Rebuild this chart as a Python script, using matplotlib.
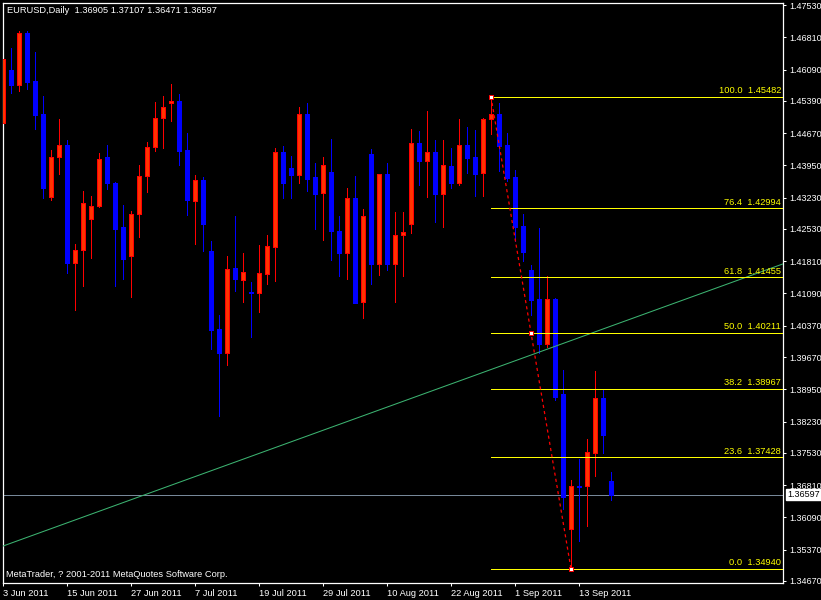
import matplotlib
matplotlib.use("Agg")
import matplotlib.pyplot as plt
import numpy as np

# ---------------- data ----------------
symbol = "EURUSD,Daily"
tick_dates = ["3 Jun 2011", "15 Jun 2011", "27 Jun 2011", "7 Jul 2011", "19 Jul 2011",
              "29 Jul 2011", "10 Aug 2011", "22 Aug 2011", "1 Sep 2011", "13 Sep 2011"]
bars_per_tick = 8

open_ = [1.4489, 1.4608, 1.4574, 1.4690, 1.4583, 1.4509, 1.4324, 1.4413, 1.4440, 1.4178,
         1.4205, 1.4275, 1.4304, 1.4413, 1.4355, 1.4257, 1.4192, 1.4286, 1.4371, 1.4435,
         1.4500, 1.4535, 1.4539, 1.4429, 1.4316, 1.4362, 1.4204, 1.4030, 1.3975, 1.4166,
         1.4140, 1.4113, 1.4111, 1.4153, 1.4213, 1.4425, 1.4389, 1.4374, 1.4510, 1.4369,
         1.4333, 1.4380, 1.4248, 1.4200, 1.4321, 1.4089, 1.4420, 1.4175, 1.4375, 1.4175,
         1.4239, 1.4263, 1.4444, 1.4405, 1.4424, 1.4332, 1.4394, 1.4356, 1.4440, 1.4414,
         1.4377, 1.4498, 1.4510, 1.4440, 1.4368, 1.4260, 1.4161, 1.4096, 1.3997, 1.4096,
         1.3885, 1.3584, 1.3679, 1.3678, 1.3752, 1.3876, 1.36905]
high = [1.4641, 1.4657, 1.4695, 1.4695, 1.4648, 1.4550, 1.4429, 1.4499, 1.4452, 1.4219,
        1.4338, 1.4327, 1.4422, 1.4440, 1.4357, 1.4306, 1.4292, 1.4396, 1.4447, 1.4536,
        1.4550, 1.4577, 1.4554, 1.4467, 1.4373, 1.4368, 1.4225, 1.4060, 1.4193, 1.4282,
        1.4199, 1.4135, 1.4217, 1.4240, 1.4433, 1.4438, 1.4416, 1.4525, 1.4534, 1.4400,
        1.4413, 1.4454, 1.4282, 1.4344, 1.4371, 1.4298, 1.4431, 1.4375, 1.4400, 1.4291,
        1.4291, 1.4476, 1.4472, 1.4516, 1.4452, 1.4452, 1.4434, 1.4499, 1.4481, 1.4474,
        1.4500, 1.45482, 1.4534, 1.4467, 1.4385, 1.4286, 1.4172, 1.4256, 1.4148, 1.4099,
        1.3937, 1.3693, 1.3739, 1.3784, 1.3936, 1.3893, 1.37107]
low = [1.4450, 1.4556, 1.4562, 1.4565, 1.4477, 1.4321, 1.4318, 1.4376, 1.4155, 1.4073,
       1.4126, 1.4189, 1.4303, 1.4342, 1.4126, 1.4141, 1.4102, 1.4236, 1.4336, 1.4426,
       1.4434, 1.4495, 1.4396, 1.4284, 1.4220, 1.4204, 1.3985, 1.3836, 1.3950, 1.4114,
       1.4091, 1.4012, 1.4068, 1.4131, 1.4137, 1.4323, 1.4323, 1.4356, 1.4338, 1.4254,
       1.4228, 1.4184, 1.4149, 1.4142, 1.4087, 1.4055, 1.4129, 1.4151, 1.4162, 1.4091,
       1.4149, 1.4245, 1.4352, 1.4325, 1.4269, 1.4258, 1.4345, 1.4352, 1.4378, 1.4327,
       1.4327, 1.4466, 1.4383, 1.4359, 1.4225, 1.4181, 1.4060, 1.3975, 1.3989, 1.3872,
       1.3627, 1.34940, 1.3557, 1.3590, 1.3702, 1.3753, 1.36471]
close = [1.4632, 1.4574, 1.4690, 1.4582, 1.4508, 1.4345, 1.4413, 1.4440, 1.4178, 1.4205,
         1.4310, 1.4304, 1.4409, 1.4355, 1.4254, 1.4185, 1.4286, 1.4371, 1.4435, 1.4500,
         1.4525, 1.4539, 1.4427, 1.4318, 1.4362, 1.4263, 1.4028, 1.3975, 1.4163, 1.4141,
         1.4157, 1.4111, 1.4154, 1.4214, 1.4425, 1.4356, 1.4373, 1.4509, 1.4365, 1.4332,
         1.4395, 1.4248, 1.4199, 1.4321, 1.4088, 1.4281, 1.4175, 1.4375, 1.4175, 1.4239,
         1.4246, 1.4444, 1.4405, 1.4424, 1.4332, 1.4395, 1.4356, 1.4440, 1.4412, 1.4376,
         1.4498, 1.4509, 1.4439, 1.4367, 1.4258, 1.4202, 1.4095, 1.3997, 1.4096, 1.3878,
         1.3654, 1.3678, 1.3677, 1.3754, 1.3876, 1.3794, 1.36597]

price_ticks = [1.47530, 1.46810, 1.46090, 1.45390, 1.44670, 1.43950, 1.43230, 1.42530,
               1.41810, 1.41090, 1.40370, 1.39670, 1.38950, 1.38230, 1.37530, 1.36810,
               1.36090, 1.35370, 1.34670]

fib_ratios = [100.0, 76.4, 61.8, 50.0, 38.2, 23.6, 0.0]
fib_prices = [1.45482, 1.42994, 1.41455, 1.40211, 1.38967, 1.37428, 1.34940]
fib_bar_high, fib_bar_low = 61, 71

trend_bars = [0, 97.5]
trend_prices = [1.3545, 1.4175]

y_range = (1.34625, 1.47586)
x_range = (0, 97.5)

# ---------------- style ----------------
FONT = ["Liberation Sans", "DejaVu Sans"]
plt.rcParams["font.family"] = FONT
FS = 6.7
YFS = 6.5
LW = 0.68   # ~1 px
BULL_FILL, BULL_EDGE = "#FF3300", "#FF0000"
BEAR = "#0000FF"

W, H = 821, 600
fig = plt.figure(figsize=(W / 100, H / 100), dpi=100, facecolor="black")
ax = fig.add_axes([3 / W, 17 / H, 780 / W, 580.5 / H], facecolor="black")

o = np.array(open_); hi = np.array(high); lo = np.array(low); c = np.array(close)
x = np.arange(len(c))
bull = c >= o
bear = ~bull

ax.vlines(x[bull], lo[bull], hi[bull], color=BULL_EDGE, lw=LW, zorder=2, antialiased=False)
ax.vlines(x[bear], lo[bear], hi[bear], color=BEAR, lw=LW, zorder=2, antialiased=False)
bottom = np.minimum(o, c)
height = np.maximum(np.abs(c - o), 0.00002)
ax.bar(x[bull], height[bull], bottom=bottom[bull], width=0.55, color=BULL_FILL,
       edgecolor=BULL_EDGE, linewidth=LW, zorder=3, antialiased=False)
ax.bar(x[bear], height[bear], bottom=bottom[bear], width=0.55, color=BEAR,
       edgecolor=BEAR, linewidth=LW, zorder=3, antialiased=False)

# bid line
ax.axhline(c[-1], color="#778899", lw=LW, zorder=1, antialiased=False)

# trend line
ax.plot(trend_bars, trend_prices, color="#3CB371", lw=0.75, zorder=4, antialiased=True)

# fibonacci levels
for r, p in zip(fib_ratios, fib_prices):
    ax.hlines(p, fib_bar_high, x_range[1], color="#FFFF00", lw=LW, zorder=4,
              antialiased=False)
    ax.annotate(f"{r:.1f}  {p:.5f}", xy=(1, p), xycoords=("axes fraction", "data"),
                xytext=(-2, 1.5), textcoords="offset pixels", ha="right", va="bottom",
                color="#FFFF00", fontsize=FS, zorder=5)
ax.plot([fib_bar_high, fib_bar_low], [fib_prices[0], fib_prices[-1]], color="#FF0000",
        lw=0.9, ls=(0, (2.5, 2.5)), zorder=5)
mid = (fib_bar_high + fib_bar_low) / 2
ax.plot([fib_bar_high, mid, fib_bar_low], [fib_prices[0], fib_prices[3], fib_prices[-1]],
        ls="none", marker="s", ms=3.2, mfc="white", mec="#FF0000", mew=0.7, zorder=6)

ax.set_xlim(*x_range)
ax.set_ylim(*y_range)

# axes
for s in ax.spines.values():
    s.set_color("white")
    s.set_linewidth(0.9)
ax.yaxis.tick_right()
ax.set_yticks(price_ticks)
ax.set_yticklabels([f"{v:.5f}" for v in price_ticks])
ax.tick_params(axis="y", direction="out", length=2.3, width=0.75, colors="white",
               labelsize=YFS, pad=2.0, left=False, right=True, labelleft=False, labelright=True)
ax.set_xticks(np.arange(len(tick_dates)) * bars_per_tick)
ax.set_xticklabels(tick_dates)
for lbl in ax.get_xticklabels():
    lbl.set_ha("left")
ax.tick_params(axis="x", direction="out", length=2.3, width=0.75, colors="white",
               labelsize=FS, pad=2.0)

# bid price box
ax.annotate(f"{c[-1]:.5f}", xy=(1, c[-1]), xycoords=("axes fraction", "data"),
            xytext=(4, 0), textcoords="offset pixels", ha="left", va="center",
            color="black", fontsize=YFS, annotation_clip=False, zorder=10,
            bbox=dict(boxstyle="square,pad=0.12", fc="white", ec="white"))

# header & footer
fig.text(7 / W, 1 - 10.8 / H,
         f"{symbol}  {open_[-1]:.5f} {high[-1]:.5f} {low[-1]:.5f} {close[-1]:.5f}",
         color="white", fontsize=FS, va="center", ha="left")
fig.text(6 / W, 1 - 574.5 / H, "MetaTrader, ? 2001-2011 MetaQuotes Software Corp.",
         color="white", fontsize=FS, va="center", ha="left")

fig.savefig("out.png", dpi=100, facecolor="black")
